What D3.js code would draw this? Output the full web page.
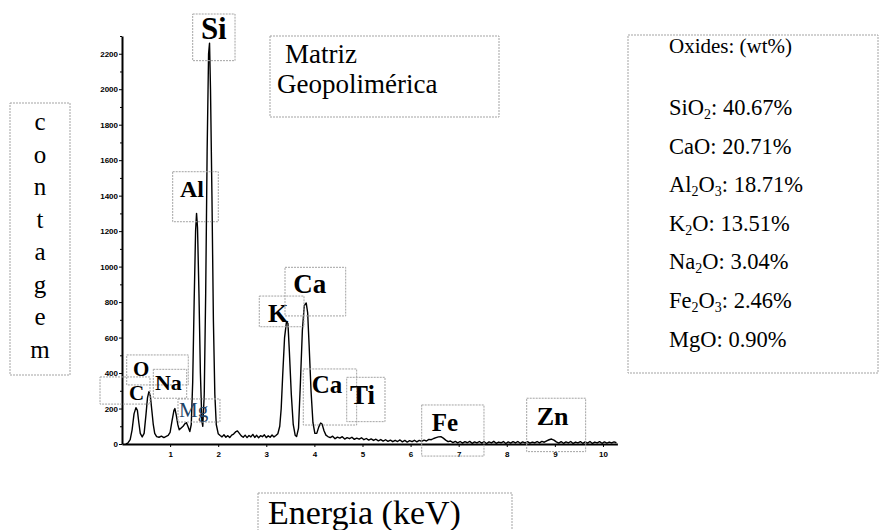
<!DOCTYPE html>
<html>
<head>
<meta charset="utf-8">
<script src="https://cdn.jsdelivr.net/npm/d3@7"></script>
<style>
body{margin:0;background:#fff}
</style>
</head>
<body>
<div id="chart"></div>
<script>
// EDS spectrum - Matriz Geopolimérica

// spectrum: [energy keV, counts]
const spectrum = [
  [0.08,0],[0.12,5],[0.17,25],[0.21,80],[0.25,170],[0.29,205],[0.32,190],[0.35,120],[0.38,60],[0.42,40],
  [0.46,60],[0.50,170],[0.53,260],[0.56,295],[0.59,270],[0.62,190],[0.65,110],[0.68,60],[0.72,42],[0.77,38],
  [0.82,44],[0.87,36],[0.92,43],[0.96,48],[1.00,65],[1.04,130],[1.08,190],[1.10,200],[1.13,160],[1.16,110],
  [1.19,80],[1.23,90],[1.27,100],[1.31,115],[1.34,120],[1.37,100],[1.41,70],[1.44,110],[1.47,350],[1.50,800],
  [1.53,1200],[1.55,1300],[1.57,1220],[1.60,850],[1.63,400],[1.66,130],[1.68,100],[1.71,280],[1.74,850],[1.77,1650],
  [1.80,2200],[1.82,2260],[1.84,2000],[1.87,1400],[1.90,700],[1.93,280],[1.96,110],[2.00,58],[2.04,48],[2.08,40],
  [2.12,52],[2.16,38],[2.20,47],[2.24,36],[2.28,50],[2.32,56],[2.36,68],[2.40,74],[2.44,60],[2.48,46],
  [2.52,38],[2.56,50],[2.60,36],[2.64,48],[2.68,40],[2.72,54],[2.76,37],[2.80,49],[2.84,35],[2.88,47],
  [2.92,41],[2.96,52],[3.00,36],[3.04,46],[3.08,38],[3.12,51],[3.16,40],[3.20,48],[3.24,58],[3.28,100],
  [3.31,200],[3.34,380],[3.38,600],[3.42,690],[3.45,680],[3.48,520],[3.52,280],[3.56,110],[3.60,50],[3.63,42],
  [3.67,90],[3.71,350],[3.75,640],[3.79,780],[3.83,795],[3.86,740],[3.89,560],[3.93,300],[3.97,120],[4.01,60],
  [4.05,60],[4.09,95],[4.13,118],[4.16,112],[4.20,75],[4.24,50],[4.28,42],[4.33,36],[4.38,44],[4.43,30],
  [4.48,39],[4.53,33],[4.58,41],[4.63,28],[4.68,36],[4.73,30],[4.78,38],[4.83,26],[4.88,33],[4.93,27],
  [4.98,35],[5.03,24],[5.08,31],[5.13,22],[5.18,29],[5.23,20],[5.28,27],[5.33,18],[5.38,25],[5.43,16],
  [5.48,24],[5.53,15],[5.58,22],[5.63,13],[5.68,21],[5.73,14],[5.78,23],[5.83,12],[5.88,20],[5.93,11],
  [5.98,19],[6.03,13],[6.08,21],[6.13,12],[6.18,20],[6.23,15],[6.28,22],[6.33,17],[6.38,26],[6.43,24],
  [6.48,31],[6.53,36],[6.58,40],[6.63,41],[6.68,33],[6.73,22],[6.78,13],[6.83,17],[6.88,8],[6.93,15],
  [6.98,6],[7.03,14],[7.08,5],[7.13,13],[7.18,7],[7.23,15],[7.28,4],[7.33,12],[7.38,6],[7.43,14],
  [7.48,5],[7.53,13],[7.58,3],[7.63,12],[7.68,6],[7.73,15],[7.78,4],[7.83,11],[7.88,7],[7.93,14],
  [7.98,3],[8.03,12],[8.08,5],[8.13,13],[8.18,6],[8.23,14],[8.28,4],[8.33,12],[8.38,6],[8.43,13],
  [8.48,5],[8.53,11],[8.58,7],[8.63,14],[8.68,6],[8.73,15],[8.78,10],[8.83,18],[8.88,24],[8.93,28],
  [8.98,22],[9.03,12],[9.08,5],[9.13,13],[9.18,4],[9.23,12],[9.28,6],[9.33,14],[9.38,3],[9.43,11],
  [9.48,6],[9.53,13],[9.58,4],[9.63,12],[9.68,5],[9.73,14],[9.78,3],[9.83,11],[9.88,6],[9.93,13],
  [9.98,4],[10.03,12],[10.08,5],[10.13,11],[10.18,6],[10.23,12],[10.28,7]
];

const xTicks = [1,2,3,4,5,6,7,8,9,10];
const yTicks = [0,200,400,600,800,1000,1200,1400,1600,1800,2000,2200];
const yMinor = [100,300,500,700,900,1100,1300,1500,1700,1900,2100,2300];

const peakNames = ["Si","Al","O","C","Na","Mg","K","Ca","Ca","Ti","Fe","Zn"];

const oxideNames = ["SiO_2","CaO","Al_2O_3","K_2O","Na_2O","Fe_2O_3","MgO"];
const oxideWt = [40.67,20.71,18.71,13.51,3.04,2.46,0.90];

const ylabelLetters = ["c","o","n","t","a","g","e","m"];

// label placement in data units: box [keV0,keV1,countTop,countBottom], text [keV,count], font size
const peakLayout = [
  {box:[1.47,2.35,2424,2161], text:[1.64,2283], size:31},
  {box:[1.054,2.002,1535,1253], text:[1.206,1394], size:24},
  {box:[0.098,1.378,502,333], text:[0.229,383], size:21},
  {box:[-0.457,0.582,378,225], text:[0.146,250], size:21},
  {box:[0.651,1.345,421,258], text:[0.686,304], size:22},
  {box:[1.164,2.037,254,124], text:[1.185,152], size:21, color:"#1f4466", weight:"normal"},
  {box:[2.854,3.784,834,661], text:[3.035,689], size:26},
  {box:[3.389,4.651,996,722], text:[3.561,850], size:27},
  {box:[3.769,4.879,423,107], text:[3.944,286], size:25},
  {box:[4.672,5.468,376,126], text:[4.740,225], size:27},
  {box:[6.231,7.526,220,-68], text:[6.439,75], size:25},
  {box:[8.414,9.640,258,-43], text:[8.622,107], size:26}
];

const serif = "'Liberation Serif','Times New Roman',serif";
const boxStroke = "#a3a3a3";

const svg = d3.select("#chart").append("svg")
   .attr("width",880).attr("height",530)
   .style("background","#fff");

const x = d3.scaleLinear().domain([0,10.3]).range([122,617.4]);
const y = d3.scaleLinear().domain([0,2300]).range([444,36]);

// minor y ticks
svg.append("g").attr("class","y-minor")
   .attr("transform","translate("+x(0)+",0)")
   .call(d3.axisLeft(y).tickValues(yMinor).tickSize(2).tickFormat("").tickSizeOuter(0))
   .select(".domain").remove();

// y axis
svg.append("g").attr("class","y-axis")
   .attr("transform","translate("+x(0)+",0)")
   .call(d3.axisLeft(y).tickValues(yTicks).tickFormat(d3.format("d"))
      .tickSize(3).tickPadding(1).tickSizeOuter(0));

// x axis
svg.append("g").attr("class","x-axis")
   .attr("transform","translate(0,"+y(0)+")")
   .call(d3.axisBottom(x).tickValues(xTicks).tickFormat(d3.format("d"))
      .tickSize(3).tickPadding(4).tickSizeOuter(0));

svg.selectAll(".x-axis,.y-axis,.y-minor").selectAll("line").attr("stroke","#000").attr("stroke-width",1);
svg.selectAll(".x-axis .domain,.y-axis .domain").attr("stroke","#000").attr("stroke-width",2);
svg.selectAll(".x-axis text,.y-axis text")
   .attr("fill","#000")
   .style("font-family","'Liberation Sans',Arial,sans-serif")
   .style("font-size","8px")
   .style("font-weight","bold");

// spectrum
svg.append("path").datum(spectrum)
   .attr("fill","none")
   .attr("stroke","#000")
   .attr("stroke-width",1.4)
   .attr("stroke-linejoin","round")
   .attr("d",d3.line().x(d=>x(d[0])).y(d=>y(d[1])));

// peak labels
const gLab = svg.append("g").attr("class","peak-labels");
peakNames.forEach(function(name,i){
   const L = peakLayout[i];
   gLab.append("rect")
      .attr("x",x(L.box[0])).attr("y",y(L.box[2]))
      .attr("width",x(L.box[1])-x(L.box[0]))
      .attr("height",y(L.box[3])-y(L.box[2]))
      .attr("fill","none").attr("stroke",boxStroke).attr("stroke-width",1)
      .attr("stroke-dasharray","2,1");
   gLab.append("text")
      .attr("x",x(L.text[0])).attr("y",y(L.text[1]))
      .attr("fill",L.color || "#000")
      .style("font-family",serif)
      .style("font-size",L.size+"px")
      .style("font-weight",L.weight || "bold")
      .text(name);
});

function dashedBox(x0,y0,w,h){
   svg.append("rect").attr("x",x0).attr("y",y0).attr("width",w).attr("height",h)
      .attr("fill","none").attr("stroke",boxStroke).attr("stroke-width",1)
      .attr("stroke-dasharray","2,1");
}

// title box
dashedBox(270,36,229,81);
svg.append("text").attr("x",285).attr("y",63)
   .style("font-family",serif).style("font-size","27px").text("Matriz");
svg.append("text").attr("x",277).attr("y",93)
   .style("font-family",serif).style("font-size","27px").text("Geopolimérica");

// y label box
dashedBox(10,103,60,272);
ylabelLetters.forEach(function(ch,i){
   svg.append("text").attr("x",40).attr("y",130+i*32.5)
      .attr("text-anchor","middle")
      .style("font-family",serif).style("font-size","25px").text(ch);
});

// x label box
dashedBox(258,493,254,50);
svg.append("text").attr("x",268).attr("y",524)
   .style("font-family",serif).style("font-size","34px").text("Energia (keV)");

// oxides box
dashedBox(628,35,250,338);
svg.append("text").attr("x",669).attr("y",53)
   .style("font-family",serif).style("font-size","21px").text("Oxides: (wt%)");
oxideNames.forEach(function(name,i){
   const t = svg.append("text").attr("x",669).attr("y",115+i*38.6)
      .style("font-family",serif).style("font-size","22.5px");
   let shift = 0;
   name.split(/(_\d)/).filter(s=>s.length).forEach(function(part){
      if (part[0]==="_") {
         t.append("tspan").attr("dy",4-shift).style("font-size","14px").text(part.slice(1));
         shift = 4;
      } else {
         t.append("tspan").attr("dy",-shift).text(part);
         shift = 0;
      }
   });
   t.append("tspan").attr("dy",-shift).text(": "+oxideWt[i].toFixed(2)+"%");
});
</script>
</body>
</html>
